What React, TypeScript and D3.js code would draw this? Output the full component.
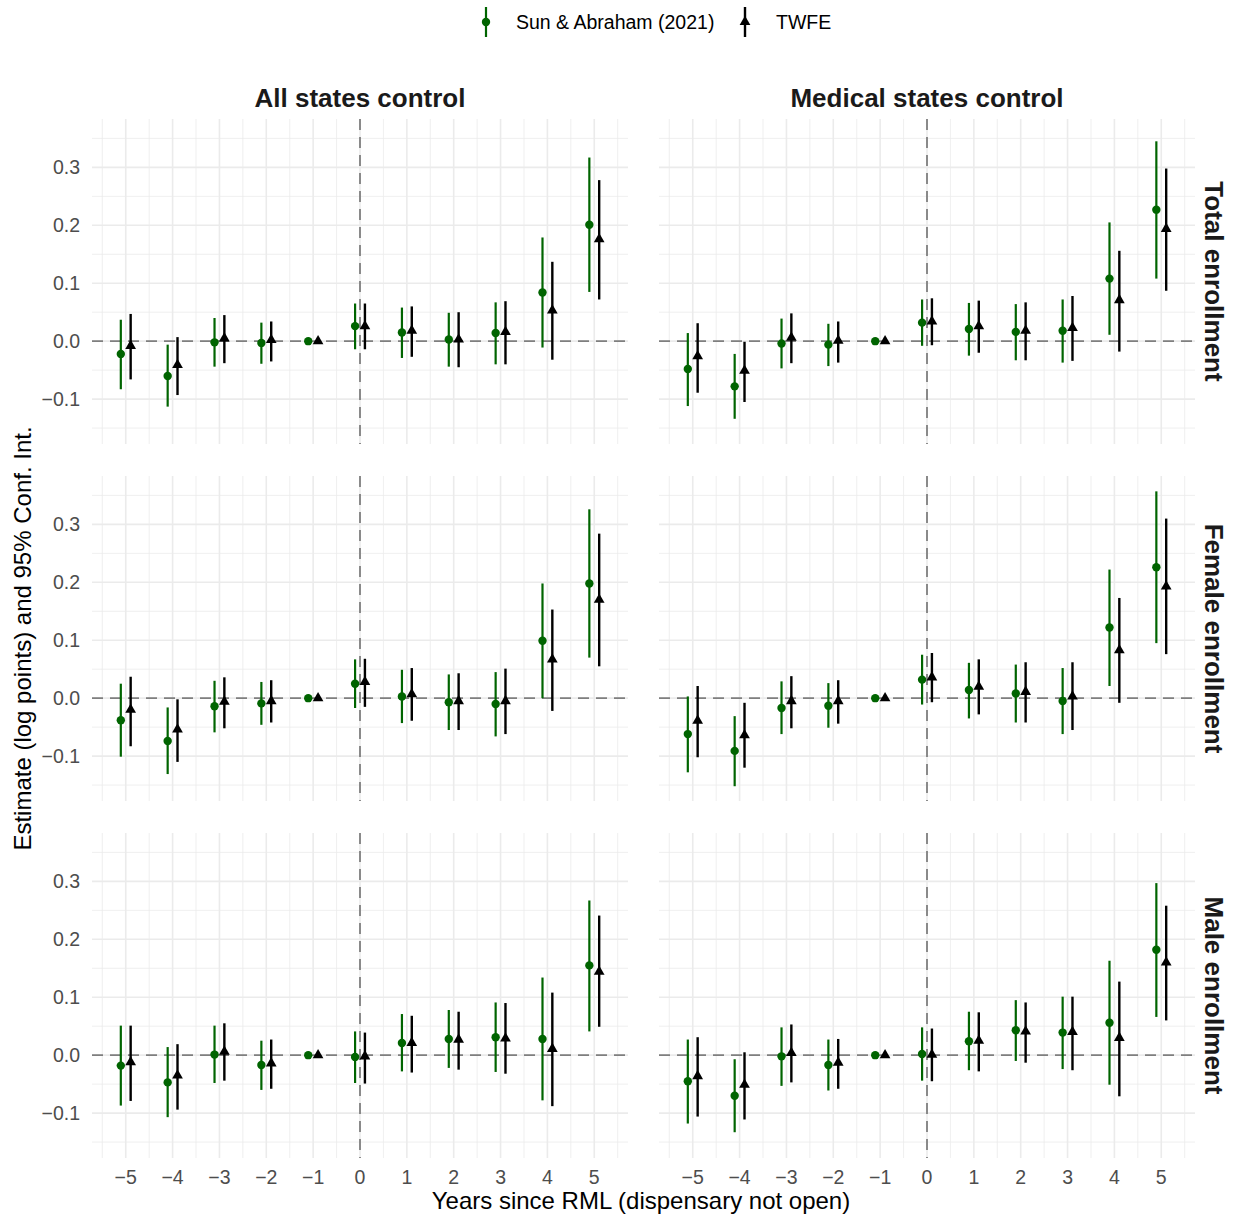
import React from 'react';
import * as d3 from 'd3';

// event time (years since RML)
const events = [-5, -4, -3, -2, -1, 0, 1, 2, 3, 4, 5];
const xTickLabels = ['−5', '−4', '−3', '−2', '−1', '0', '1', '2', '3', '4', '5'];
const yTicks = [-0.1, 0, 0.1, 0.2, 0.3];
const yTickLabels = ['−0.1', '0.0', '0.1', '0.2', '0.3'];
const columns = ['All states control', 'Medical states control'];
const rows = ['Total enrollment', 'Female enrollment', 'Male enrollment'];
const seriesNames = ['Sun & Abraham (2021)', 'TWFE'];

// [estimate, lower, upper] per event time
const saTotalAll = [[-0.022, -0.083, 0.037], [-0.060, -0.113, -0.006], [-0.002, -0.044, 0.040], [-0.003, -0.039, 0.032], [0, 0, 0], [0.026, -0.014, 0.065], [0.015, -0.029, 0.058], [0.003, -0.044, 0.049], [0.014, -0.040, 0.067], [0.084, -0.011, 0.179], [0.201, 0.085, 0.317]];
const twTotalAll = [[-0.008, -0.066, 0.047], [-0.041, -0.093, 0.007], [0.005, -0.038, 0.045], [0.002, -0.035, 0.034], [0, 0, 0], [0.026, -0.014, 0.065], [0.018, -0.027, 0.060], [0.003, -0.045, 0.050], [0.016, -0.040, 0.069], [0.053, -0.032, 0.137], [0.176, 0.072, 0.278]];
const saTotalMed = [[-0.048, -0.112, 0.014], [-0.078, -0.134, -0.022], [-0.004, -0.047, 0.039], [-0.006, -0.043, 0.030], [0, 0, 0], [0.032, -0.008, 0.072], [0.021, -0.025, 0.066], [0.016, -0.033, 0.064], [0.018, -0.037, 0.072], [0.108, 0.011, 0.205], [0.227, 0.108, 0.345]];
const twTotalMed = [[-0.026, -0.089, 0.031], [-0.051, -0.105, -0.001], [0.006, -0.038, 0.048], [0.001, -0.037, 0.034], [0, 0, 0], [0.034, -0.007, 0.074], [0.026, -0.020, 0.070], [0.018, -0.033, 0.067], [0.023, -0.034, 0.078], [0.071, -0.018, 0.156], [0.194, 0.087, 0.298]];
const saFemaleAll = [[-0.038, -0.101, 0.025], [-0.074, -0.131, -0.016], [-0.014, -0.059, 0.030], [-0.009, -0.046, 0.028], [0, 0, 0], [0.025, -0.017, 0.067], [0.003, -0.043, 0.049], [-0.007, -0.055, 0.041], [-0.010, -0.066, 0.045], [0.099, 0.000, 0.198], [0.198, 0.070, 0.326]];
const twFemaleAll = [[-0.020, -0.083, 0.037], [-0.054, -0.110, -0.002], [-0.006, -0.052, 0.036], [-0.005, -0.042, 0.031], [0, 0, 0], [0.028, -0.015, 0.068], [0.007, -0.039, 0.052], [-0.005, -0.055, 0.043], [-0.005, -0.062, 0.051], [0.067, -0.022, 0.153], [0.170, 0.055, 0.284]];
const saFemaleMed = [[-0.062, -0.128, 0.003], [-0.091, -0.152, -0.031], [-0.017, -0.062, 0.029], [-0.013, -0.051, 0.026], [0, 0, 0], [0.032, -0.011, 0.075], [0.014, -0.035, 0.061], [0.008, -0.042, 0.058], [-0.005, -0.062, 0.052], [0.122, 0.021, 0.222], [0.226, 0.095, 0.357]];
const twFemaleMed = [[-0.039, -0.102, 0.021], [-0.064, -0.120, -0.008], [-0.005, -0.052, 0.038], [-0.005, -0.044, 0.031], [0, 0, 0], [0.036, -0.007, 0.078], [0.020, -0.028, 0.067], [0.011, -0.042, 0.062], [0.003, -0.055, 0.062], [0.083, -0.008, 0.173], [0.193, 0.076, 0.310]];
const saMaleAll = [[-0.018, -0.087, 0.051], [-0.047, -0.107, 0.014], [0.001, -0.048, 0.051], [-0.017, -0.060, 0.025], [0, 0, 0], [-0.003, -0.048, 0.041], [0.021, -0.028, 0.071], [0.028, -0.022, 0.078], [0.031, -0.029, 0.091], [0.028, -0.078, 0.134], [0.155, 0.041, 0.267]];
const twMaleAll = [[-0.012, -0.079, 0.051], [-0.035, -0.094, 0.019], [0.006, -0.044, 0.055], [-0.014, -0.058, 0.027], [0, 0, 0], [-0.002, -0.049, 0.039], [0.021, -0.030, 0.068], [0.027, -0.025, 0.075], [0.029, -0.032, 0.090], [0.011, -0.088, 0.108], [0.144, 0.049, 0.241]];
const saMaleMed = [[-0.045, -0.118, 0.027], [-0.070, -0.133, -0.007], [-0.002, -0.053, 0.048], [-0.017, -0.061, 0.027], [0, 0, 0], [0.002, -0.044, 0.048], [0.024, -0.026, 0.075], [0.043, -0.010, 0.095], [0.039, -0.024, 0.101], [0.056, -0.051, 0.163], [0.182, 0.066, 0.297]];
const twMaleMed = [[-0.036, -0.106, 0.031], [-0.051, -0.111, 0.005], [0.004, -0.047, 0.053], [-0.013, -0.058, 0.028], [0, 0, 0], [0.001, -0.045, 0.046], [0.025, -0.028, 0.074], [0.041, -0.013, 0.091], [0.040, -0.026, 0.101], [0.030, -0.071, 0.127], [0.160, 0.060, 0.258]];

const panelData = [
  [[saTotalAll, twTotalAll], [saTotalMed, twTotalMed]],
  [[saFemaleAll, twFemaleAll], [saFemaleMed, twFemaleMed]],
  [[saMaleAll, twMaleAll], [saMaleMed, twMaleMed]],
];

const W = 1239, H = 1217;
const colLeft = [92, 659];
const panelW = 536;
const rowTop = [119, 476, 833];
const panelH = 325;
const green = '#006400';
const colors = [green, '#000000'];
const dodge = 0.105;
const font = "'Liberation Sans', Arial, Helvetica, sans-serif";
const tickColor = '#4d4d4d';
const gridColor = '#ebebeb';
const dash = '11,7';

const triangle = d3.symbol(d3.symbolTriangle, 50)();

function Panel({ r, c }) {
  const x = d3.scaleLinear().domain([-5.72, 5.72]).range([colLeft[c], colLeft[c] + panelW]);
  const y = d3.scaleLinear().domain([-0.1775, 0.3835]).range([rowTop[r] + panelH, rowTop[r]]);
  const minorY = d3.range(-0.15, 0.36, 0.1);
  const minorX = d3.range(-5.5, 5.6, 1);
  const [x0, x1] = x.range();
  const [y1, y0] = y.range();
  return (
    <g>
      {minorY.map((v) => (
        <line key={'my' + v} x1={x0} x2={x1} y1={y(v)} y2={y(v)} stroke={gridColor} strokeWidth={0.8} />
      ))}
      {minorX.map((v) => (
        <line key={'mx' + v} x1={x(v)} x2={x(v)} y1={y0} y2={y1} stroke={gridColor} strokeWidth={0.8} />
      ))}
      {yTicks.map((v) => (
        <line key={'y' + v} x1={x0} x2={x1} y1={y(v)} y2={y(v)} stroke={gridColor} strokeWidth={1.6} />
      ))}
      {events.map((v) => (
        <line key={'x' + v} x1={x(v)} x2={x(v)} y1={y0} y2={y1} stroke={gridColor} strokeWidth={1.6} />
      ))}
      <line x1={x0} x2={x1} y1={y(0)} y2={y(0)} stroke="#7f7f7f" strokeWidth={1.8} strokeDasharray={dash} />
      <line x1={x(0)} x2={x(0)} y1={y0} y2={y1} stroke="#7f7f7f" strokeWidth={1.8} strokeDasharray={dash} />
      {panelData[r][c].map((series, s) => {
        const off = s === 0 ? -dodge : dodge;
        return series.map((d, i) => {
          const cx = x(events[i] + off);
          return (
            <g key={s + '-' + i}>
              {d[2] > d[1] && (
                <line x1={cx} x2={cx} y1={y(d[1])} y2={y(d[2])} stroke={colors[s]} strokeWidth={s === 0 ? 2.2 : 2.4} />
              )}
              {s === 0 ? (
                <circle cx={cx} cy={y(d[0])} r={4.2} fill={green} />
              ) : (
                <path d={triangle} transform={`translate(${cx},${y(d[0])})`} fill="#000" />
              )}
            </g>
          );
        });
      })}
      {c === 0 &&
        yTicks.map((v, i) => (
          <text key={'yl' + v} x={80} y={y(v)} dy="0.36em" textAnchor="end" fontSize={19.5} fill={tickColor}>
            {yTickLabels[i]}
          </text>
        ))}
      {r === 2 &&
        events.map((v, i) => (
          <text key={'xl' + v} x={x(v)} y={1184} textAnchor="middle" fontSize={19.5} fill={tickColor}>
            {xTickLabels[i]}
          </text>
        ))}
    </g>
  );
}

export default function App() {
  return (
    <svg width={W} height={H} style={{ position: 'absolute', left: 0, top: 0, background: '#fff' }} fontFamily={font}>
      <rect width={W} height={H} fill="#fff" />
      {/* legend */}
      <g>
        <line x1={486} x2={486} y1={7} y2={37} stroke={green} strokeWidth={2.2} />
        <circle cx={486} cy={22} r={4.2} fill={green} />
        <text x={516} y={22} dy="0.36em" fontSize={19.5} fill="#000">{seriesNames[0]}</text>
        <line x1={745} x2={745} y1={7} y2={37} stroke="#000" strokeWidth={2.4} />
        <path d={triangle} transform="translate(745,22)" fill="#000" />
        <text x={776} y={22} dy="0.36em" fontSize={19.5} fill="#000">{seriesNames[1]}</text>
      </g>
      {columns.map((t, c) => (
        <text key={t} x={colLeft[c] + panelW / 2} y={107} textAnchor="middle" fontSize={26} fontWeight="bold" fill="#1a1a1a">
          {t}
        </text>
      ))}
      {rows.map((t, r) => (
        <text
          key={t}
          transform={`translate(1205,${rowTop[r] + panelH / 2}) rotate(90)`}
          textAnchor="middle"
          fontSize={26}
          fontWeight="bold"
          fill="#1a1a1a"
        >
          {t}
        </text>
      ))}
      {rows.map((_, r) => columns.map((__, c) => <Panel key={r + '-' + c} r={r} c={c} />))}
      <text x={641} y={1209} textAnchor="middle" fontSize={24} fill="#000">
        Years since RML (dispensary not open)
      </text>
      <text transform={`translate(31,${(rowTop[0] + rowTop[2] + panelH) / 2}) rotate(-90)`} textAnchor="middle" fontSize={24} fill="#000">
        Estimate (log points) and 95% Conf. Int.
      </text>
    </svg>
  );
}
